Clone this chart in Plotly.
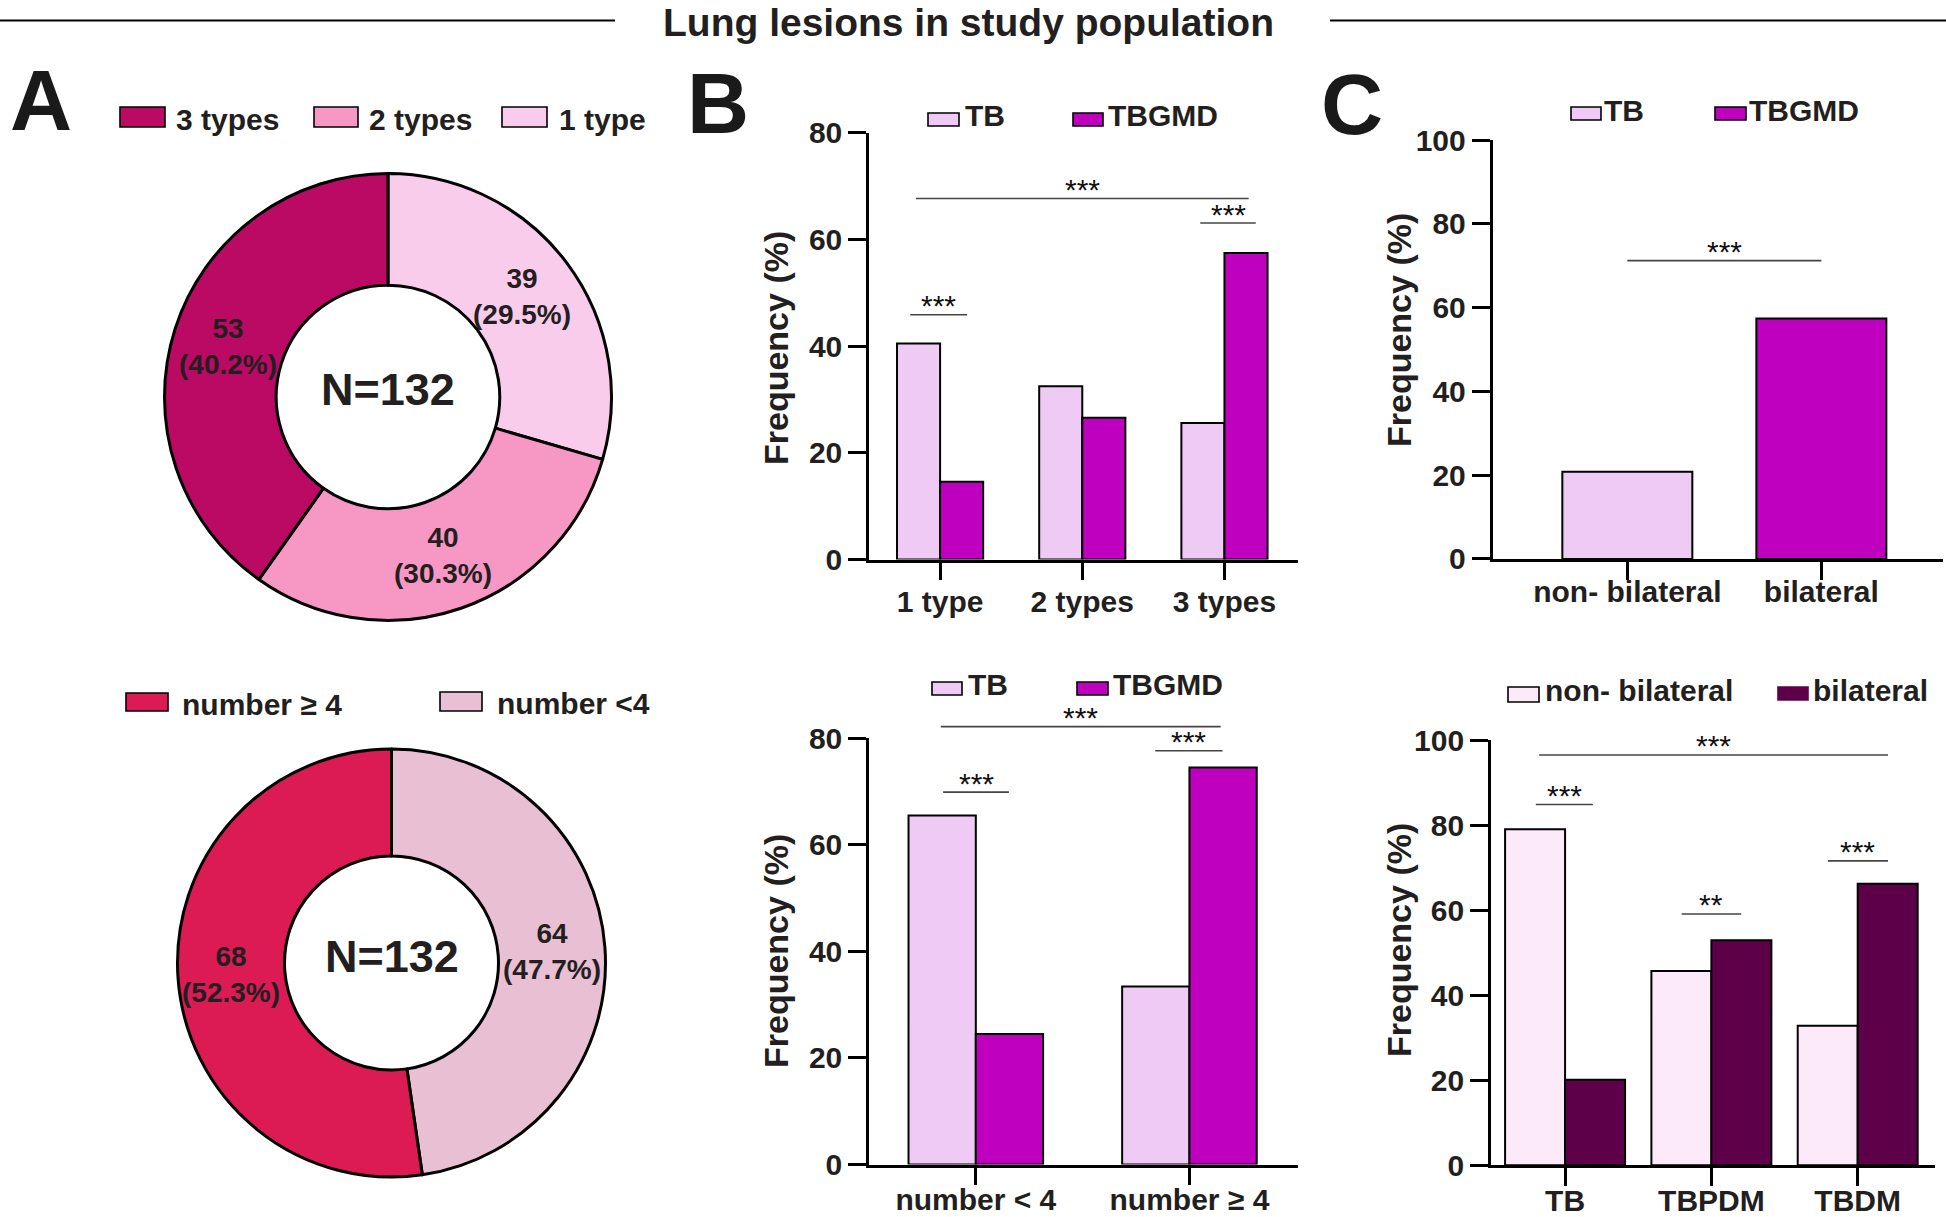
import math
import plotly.graph_objects as go

# ---------------- data ----------------
pie1_labels = ["1 type", "2 types", "3 types"]
pie1_counts = [39, 40, 53]
pie1_pct = [29.5, 30.3, 40.2]

pie2_labels = ["number <4", "number \u2265 4"]
pie2_counts = [64, 68]
pie2_pct = [47.7, 52.3]

pie_total_text = "N=132"

b1_cats = ["1 type", "2 types", "3 types"]
b1_tb = [40.5, 32.5, 25.6]
b1_tbgmd = [14.6, 26.6, 57.5]

b2_cats = ["number < 4", "number \u2265 4"]
b2_tb = [65.5, 33.4]
b2_tbgmd = [24.5, 74.5]

c1_cats = ["non- bilateral", "bilateral"]
c1_vals = [20.8, 57.4]

c2_cats = ["TB", "TBPDM", "TBDM"]
c2_nonbil = [79.0, 45.7, 32.8]
c2_bil = [20.1, 52.9, 66.2]

# significance brackets: (x0, x1, y, label) in category / value units
b1_sig = [(-0.21, 0.19, 45.9, "***"), (-0.17, 2.17, 67.7, "***"), (1.83, 2.22, 63.1, "***")]
b2_sig = [(-0.153, 0.155, 69.9, "***"), (-0.164, 1.146, 82.2, "***"), (0.84, 1.155, 77.65, "***")]
c1_sig = [(0.0, 1.0, 71.2, "***")]
c2_sig = [(-0.2, 0.19, 84.85, "***"), (0.797, 1.204, 59.1, "**"),
          (1.796, 2.207, 71.6, "***"), (-0.177, 2.207, 96.5, "***")]

# ---------------- style ----------------
W, H = 1946, 1217
FONT = "Liberation Sans, Arial, Helvetica, sans-serif"
TXT = "#231f20"

COL_3T, COL_2T, COL_1T = "#bb0a63", "#f797c4", "#f9ccec"
COL_GE4, COL_LT4 = "#dc1a54", "#e8bfd3"
COL_TB, COL_TBGMD = "#eecaf5", "#bf00bf"
COL_NB, COL_BIL = "#fdeaf8", "#5e0049"


def X(px):
    return px / W


def Y(py):
    return 1 - py / H


fig = go.Figure()
annotations = []
shapes = []

# ---------------- donuts ----------------
pies = [
    dict(vals=pie1_pct, labels=pie1_labels, counts=pie1_counts,
         colors=[COL_1T, COL_2T, COL_3T], cx=388, cy=397, R=223.5),
    dict(vals=pie2_pct, labels=pie2_labels, counts=pie2_counts,
         colors=[COL_LT4, COL_GE4], cx=391.5, cy=963, R=214),
]
for pdef in pies:
    cx, cy, R = pdef["cx"], pdef["cy"], pdef["R"]
    fig.add_trace(go.Pie(
        values=pdef["vals"], labels=pdef["labels"], textinfo="none",
        hole=0.5, sort=False, direction="clockwise", rotation=0,
        marker=dict(colors=pdef["colors"], line=dict(color="black", width=3)),
        domain=dict(x=[X(cx - R), X(cx + R)], y=[Y(cy + R), Y(cy - R)]),
        hoverinfo="skip", showlegend=False,
    ))
    # centre text
    annotations.append(dict(xref="paper", yref="paper", x=X(cx), y=Y(cy - 7),
                            text=pie_total_text, showarrow=False,
                            xanchor="center", yanchor="middle",
                            font=dict(family=FONT, size=45, color=TXT, weight="bold")))
    # slice labels placed at the middle angle of each slice (from the values)
    total = sum(pdef["vals"])
    cum = 0.0
    for v, c in zip(pdef["vals"], pdef["counts"]):
        mid = (cum + v / 2) / total * 2 * math.pi
        cum += v
        lx = cx + 0.75 * R * math.sin(mid)
        ly = cy - 0.75 * R * math.cos(mid)
        annotations.append(dict(xref="paper", yref="paper", x=X(lx), y=Y(ly),
                                text=f"{c}<br>({v}%)", showarrow=False,
                                xanchor="center", yanchor="middle",
                                font=dict(family=FONT, size=28, color=TXT, weight="bold")))

# ---------------- bar panels ----------------
panels = {
    1: dict(xpx=(869, 1298.4), ypx=(132.9, 559.6), xr=[-0.5, 2.52], yr=[0, 80],
            yt=[0, 20, 40, 60, 80], cats=b1_cats, sig=b1_sig, standoff=-4),
    2: dict(xpx=(869, 1298.4), ypx=(738.3, 1164.5), xr=[-0.5, 1.51], yr=[0, 80],
            yt=[0, 20, 40, 60, 80], cats=b2_cats, sig=b2_sig, standoff=-11),
    3: dict(xpx=(1492.5, 1942.8), ypx=(140, 558.9), xr=[-0.695, 1.626], yr=[0, 100],
            yt=[0, 20, 40, 60, 80, 100], cats=c1_cats, sig=c1_sig, standoff=-14),
    4: dict(xpx=(1490.9, 1934.8), ypx=(740.1, 1165.2), xr=[-0.507, 2.527], yr=[0, 100],
            yt=[0, 20, 40, 60, 80, 100], cats=c2_cats, sig=c2_sig, standoff=-11),
}

BARLINE = dict(color="black", width=2)


def ax(n, letter):
    return letter if n == 1 else f"{letter}{n}"


def add_bar(n, y, width, offset, color):
    pos = list(range(len(y)))
    fig.add_trace(go.Bar(x=pos, y=y, width=width, offset=offset,
                         marker=dict(color=color, line=BARLINE),
                         xaxis=ax(n, "x"), yaxis=ax(n, "y"),
                         showlegend=False, hoverinfo="skip"))


add_bar(1, b1_tb, 0.303, -0.303, COL_TB)
add_bar(1, b1_tbgmd, 0.303, 0.0, COL_TBGMD)
add_bar(2, b2_tb, 0.315, -0.315, COL_TB)
add_bar(2, b2_tbgmd, 0.315, 0.0, COL_TBGMD)
add_bar(3, c1_vals, 0.67, -0.335, [COL_TB, COL_TBGMD])
add_bar(4, c2_nonbil, 0.41, -0.41, COL_NB)
add_bar(4, c2_bil, 0.41, 0.0, COL_BIL)

common = dict(showline=True, linecolor="black", linewidth=2.5, ticks="outside",
              ticklen=18, tickwidth=2.5, tickcolor="black", showgrid=False,
              zeroline=False, fixedrange=True, automargin=False,
              tickfont=dict(family=FONT, size=30, color=TXT, weight="bold"))

layout_axes = {}

for n, p in panels.items():
    xd = [X(p["xpx"][0]), X(p["xpx"][1])]
    yd = [Y(p["ypx"][1]), Y(p["ypx"][0])]
    xname = "xaxis" if n == 1 else f"xaxis{n}"
    yname = "yaxis" if n == 1 else f"yaxis{n}"
    layout_axes[xname] = dict(domain=xd, range=p["xr"], anchor=ax(n, "y"),
                              tickvals=list(range(len(p["cats"]))), ticktext=p["cats"],
                              ticklabelstandoff=p["standoff"], **common)
    layout_axes[yname] = dict(domain=yd, range=p["yr"], anchor=ax(n, "x"),
                              tickvals=p["yt"], **common)

    def to_paper(xv, yv, xd=xd, yd=yd, p=p):
        px = xd[0] + (xv - p["xr"][0]) / (p["xr"][1] - p["xr"][0]) * (xd[1] - xd[0])
        py = yd[0] + (yv - p["yr"][0]) / (p["yr"][1] - p["yr"][0]) * (yd[1] - yd[0])
        return px, py

    for x0, x1, yv, lab in p["sig"]:
        a0, b0 = to_paper(x0, yv)
        a1, _ = to_paper(x1, yv)
        shapes.append(dict(type="line", xref="paper", yref="paper", x0=a0, x1=a1,
                           y0=b0, y1=b0, line=dict(color="#444444", width=1.6)))
        annotations.append(dict(xref="paper", yref="paper", x=(a0 + a1) / 2, y=b0,
                                text=lab, showarrow=False, xanchor="center",
                                yanchor="middle", yshift=9,
                                font=dict(family=FONT, size=30, color="#111111")))

    # y-axis title
    cx = {1: 776, 2: 776, 3: 1399, 4: 1399}[n]
    cy = {1: 348, 2: 951, 3: 330, 4: 940}[n]
    annotations.append(dict(xref="paper", yref="paper", x=X(cx), y=Y(cy),
                            text="Frequency (%)", textangle=-90, showarrow=False,
                            xanchor="center", yanchor="middle",
                            font=dict(family=FONT, size=34, color=TXT, weight="bold")))

# ---------------- title & panel letters ----------------
annotations.append(dict(xref="paper", yref="paper", x=X(968), y=1,
                        text="Lung lesions in study population", showarrow=False,
                        xanchor="center", yanchor="top", borderpad=0,
                        font=dict(family=FONT, size=39, color=TXT, weight="bold")))
shapes.append(dict(type="line", xref="paper", yref="paper", x0=0, x1=X(615),
                   y0=Y(20.5), y1=Y(20.5), line=dict(color="black", width=2.2)))
shapes.append(dict(type="line", xref="paper", yref="paper", x0=X(1330), x1=1,
                   y0=Y(20.5), y1=Y(20.5), line=dict(color="black", width=2.2)))

for letter, (lx, ly) in {"A": (41, 100), "B": (718, 103), "C": (1352, 104)}.items():
    annotations.append(dict(xref="paper", yref="paper", x=X(lx), y=Y(ly), text=letter,
                            showarrow=False, xanchor="center", yanchor="middle",
                            font=dict(family=FONT, size=86, color="#1a1a1a", weight="bold")))

# ---------------- manual legends ----------------
legends = [
    # (x0, x1, y0, y1, color, text, text_x, text_y, size, border)
    (120, 165, 107, 127, COL_3T, "3 types", 174, 119, 30, True),
    (314, 358, 107, 127, COL_2T, "2 types", 367, 119, 30, True),
    (502, 547, 107, 127, COL_1T, "1 type", 557, 119, 30, True),
    (126, 168, 693, 711, COL_GE4, "number \u2265 4", 180, 704, 30, True),
    (440, 482, 692, 711, COL_LT4, "number <4", 495, 703, 30, True),
    (928, 959, 113, 126, COL_TB, "TB", 963, 116, 30, True),
    (1073, 1103, 113, 126, COL_TBGMD, "TBGMD", 1106, 116, 30, True),
    (932, 962, 682, 695, COL_TB, "TB", 966, 684, 30, True),
    (1077, 1108, 682, 695, COL_TBGMD, "TBGMD", 1111, 684, 30, True),
    (1571, 1601, 107, 120, COL_TB, "TB", 1602, 110, 30, True),
    (1715, 1746, 107, 120, COL_TBGMD, "TBGMD", 1747, 110, 30, True),
    (1508, 1539, 687, 702, COL_NB, "non- bilateral", 1543, 690, 30, True),
    (1778, 1808, 687, 700, COL_BIL, "bilateral", 1811, 690, 30, False),
]
for x0, x1, y0, y1, col, txt, tx, ty, sz, border in legends:
    shapes.append(dict(type="rect", xref="paper", yref="paper", x0=X(x0), x1=X(x1),
                       y0=Y(y1), y1=Y(y0), fillcolor=col,
                       line=dict(color="black" if border else col, width=1.6)))
    annotations.append(dict(xref="paper", yref="paper", x=X(tx), y=Y(ty), text=txt,
                            showarrow=False, xanchor="left", yanchor="middle",
                            font=dict(family=FONT, size=sz, color=TXT, weight="bold")))

fig.update_layout(
    width=W, height=H, margin=dict(l=0, r=0, t=0, b=0, autoexpand=False),
    paper_bgcolor="white", plot_bgcolor="white",
    showlegend=False, barmode="overlay",
    font=dict(family=FONT, color=TXT),
    shapes=shapes, annotations=annotations,
    **layout_axes,
)

fig.write_html("out.html", config={"displayModeBar": False},
               post_script="document.body.style.margin='0';document.body.style.overflow='hidden';")
